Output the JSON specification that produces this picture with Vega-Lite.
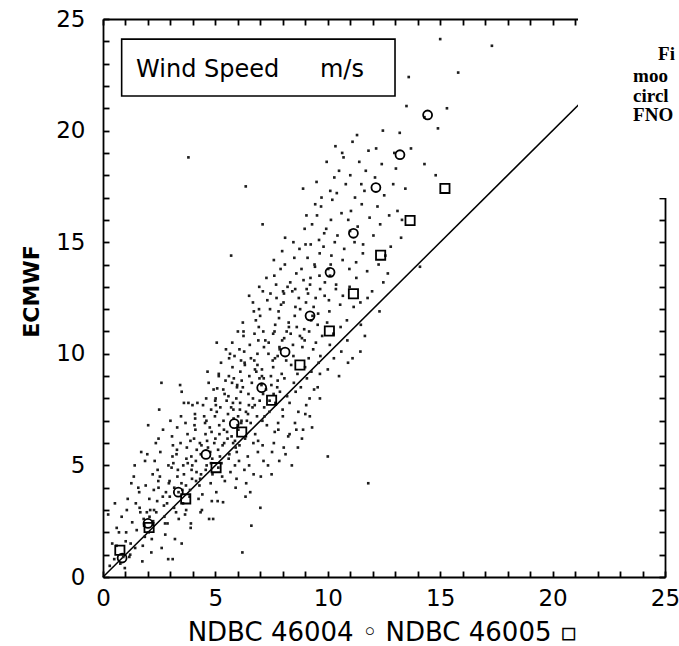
{
"$schema":"https://vega.github.io/schema/vega-lite/v6.json",
"width":562,"height":558,
"autosize":"none",
"padding":{"left":103,"top":19,"right":14,"bottom":69},
"background":"white",
"config":{"view":{"stroke":null},"axis":{"grid":false,"domainColor":"black","domainWidth":1.8,"labelColor":"black","titleColor":"black","labelFont":"DejaVu Sans","titleFont":"DejaVu Sans","labelOverlap":false,"labelFlush":false,"labelBound":false}},
"datasets":{
"line":[{"x":0,"y":0},{"x":25,"y":25}],
"dots":[
{"x":0.3,"y":0.5},{"x":0.41,"y":1.5},{"x":0.23,"y":2.8},{"x":0.5,"y":0.8},{"x":0.61,"y":2.2},{"x":0.6,"y":1.4},{"x":0.71,"y":2.0},{"x":0.53,"y":3.3},
{"x":0.9,"y":0.9},{"x":1.01,"y":1.6},{"x":0.83,"y":2.7},{"x":1.06,"y":3.0},{"x":0.77,"y":0.6},
{"x":1.1,"y":3.5},{"x":1.21,"y":1.0},{"x":1.03,"y":2.0},{"x":1.26,"y":4.2},{"x":0.97,"y":0.4},
{"x":1.3,"y":2.45},{"x":1.41,"y":5.0},{"x":1.23,"y":1.5},{"x":1.46,"y":3.3},{"x":1.17,"y":0.9},
{"x":1.5,"y":2.1},{"x":1.61,"y":3.8},{"x":1.43,"y":1.3},{"x":1.66,"y":2.9},{"x":1.37,"y":4.5},
{"x":1.7,"y":5.6},{"x":1.81,"y":2.6},{"x":1.63,"y":3.1},{"x":1.86,"y":1.8},{"x":1.57,"y":4.0},{"x":1.75,"y":0.7},
{"x":1.9,"y":4.1},{"x":2.01,"y":6.8},{"x":1.83,"y":2.3},{"x":2.06,"y":3.5},{"x":1.77,"y":1.4},{"x":1.95,"y":2.9},{"x":1.87,"y":5.2},
{"x":2.1,"y":3.0},{"x":2.21,"y":4.6},{"x":2.03,"y":2.0},{"x":2.26,"y":3.9},{"x":1.97,"y":5.5},{"x":2.15,"y":1.1},{"x":2.07,"y":2.7},
{"x":2.3,"y":5.2},{"x":2.41,"y":3.4},{"x":2.23,"y":2.5},{"x":2.46,"y":4.3},{"x":2.17,"y":1.7},{"x":2.35,"y":6.0},{"x":2.27,"y":3.0},
{"x":2.5,"y":7.5},{"x":2.61,"y":1.3},{"x":2.43,"y":4.8},{"x":2.66,"y":3.6},{"x":2.37,"y":2.9},{"x":2.55,"y":5.6},{"x":2.47,"y":4.0},
{"x":2.6,"y":8.7},{"x":2.71,"y":3.2},{"x":2.53,"y":4.5},{"x":2.76,"y":2.4},{"x":2.47,"y":6.2},
{"x":2.8,"y":3.8},{"x":2.91,"y":5.0},{"x":2.73,"y":2.7},{"x":2.96,"y":4.3},{"x":2.67,"y":6.6},{"x":2.85,"y":3.3},{"x":2.77,"y":1.9},{"x":2.9,"y":0.8},
{"x":3.0,"y":7.0},{"x":3.11,"y":5.9},{"x":2.93,"y":4.2},{"x":3.16,"y":3.1},{"x":2.87,"y":2.4},{"x":3.05,"y":4.9},{"x":2.97,"y":3.6},{"x":3.09,"y":5.4},
{"x":3.2,"y":1.7},{"x":3.31,"y":4.5},{"x":3.13,"y":5.1},{"x":3.36,"y":3.8},{"x":3.07,"y":6.3},{"x":3.25,"y":2.9},{"x":3.17,"y":4.0},{"x":3.29,"y":5.7},{"x":3.1,"y":0.8},
{"x":3.43,"y":8.6},{"x":3.5,"y":8.3},{"x":3.6,"y":7.8},{"x":3.33,"y":4.8},{"x":3.56,"y":3.3},{"x":3.27,"y":5.5},{"x":3.45,"y":6.0},{"x":3.37,"y":2.6},{"x":3.49,"y":4.2},{"x":3.3,"y":6.7},
{"x":3.6,"y":4.6},{"x":3.71,"y":5.3},{"x":3.53,"y":3.9},{"x":3.76,"y":6.4},{"x":3.47,"y":7.2},{"x":3.65,"y":2.8},{"x":3.57,"y":5.0},{"x":3.69,"y":4.1},{"x":3.5,"y":1.5},
{"x":3.8,"y":7.8},{"x":3.91,"y":2.4},{"x":3.73,"y":5.8},{"x":3.96,"y":4.4},{"x":3.67,"y":6.9},{"x":3.85,"y":3.6},{"x":3.77,"y":5.1},{"x":3.89,"y":6.1},{"x":3.7,"y":3.0},{"x":3.94,"y":4.8},{"x":3.8,"y":18.8},
{"x":3.98,"y":7.7},{"x":4.11,"y":6.6},{"x":3.93,"y":5.4},{"x":4.16,"y":4.7},{"x":3.87,"y":3.9},{"x":4.05,"y":6.2},{"x":3.97,"y":5.0},{"x":4.09,"y":7.3},{"x":3.9,"y":2.2},{"x":4.14,"y":4.3},
{"x":4.2,"y":7.8},{"x":4.31,"y":6.0},{"x":4.13,"y":5.2},{"x":4.36,"y":4.6},{"x":4.07,"y":6.8},{"x":4.25,"y":3.5},{"x":4.17,"y":5.7},{"x":4.29,"y":4.1},{"x":4.1,"y":7.1},{"x":4.34,"y":2.9},
{"x":4.45,"y":7.7},{"x":4.56,"y":6.4},{"x":4.38,"y":5.9},{"x":4.61,"y":5.0},{"x":4.32,"y":4.4},{"x":4.5,"y":7.2},{"x":4.42,"y":3.7},{"x":4.54,"y":6.9},{"x":4.35,"y":5.5},{"x":4.59,"y":8.0},{"x":4.4,"y":3.0},
{"x":4.7,"y":8.7},{"x":4.81,"y":7.5},{"x":4.63,"y":6.1},{"x":4.86,"y":5.3},{"x":4.57,"y":4.8},{"x":4.75,"y":6.7},{"x":4.67,"y":5.8},{"x":4.79,"y":4.2},{"x":4.6,"y":7.0},{"x":4.84,"y":3.4},{"x":4.72,"y":2.6},{"x":4.65,"y":9.2},
{"x":4.9,"y":2.6},{"x":5.01,"y":8.0},{"x":4.83,"y":6.5},{"x":5.06,"y":7.4},{"x":4.77,"y":5.6},{"x":4.95,"y":6.0},{"x":4.87,"y":4.6},{"x":4.99,"y":7.9},{"x":4.8,"y":5.1},{"x":5.04,"y":3.8},{"x":4.92,"y":8.4},
{"x":5.06,"y":10.5},{"x":5.08,"y":8.45},{"x":5.1,"y":3.4},{"x":5.17,"y":6.8},{"x":4.98,"y":7.2},{"x":5.2,"y":5.4},{"x":5.0,"y":6.2},{"x":5.13,"y":4.9},{"x":5.02,"y":7.7},{"x":5.15,"y":9.0},
{"x":5.25,"y":9.6},{"x":5.36,"y":7.0},{"x":5.18,"y":6.4},{"x":5.41,"y":8.2},{"x":5.12,"y":5.7},{"x":5.34,"y":3.35},{"x":5.22,"y":7.6},{"x":5.3,"y":4.5},{"x":5.15,"y":9.1},{"x":5.39,"y":6.0},{"x":5.27,"y":5.1},
{"x":5.45,"y":8.8},{"x":5.56,"y":7.3},{"x":5.38,"y":6.6},{"x":5.61,"y":9.8},{"x":5.32,"y":5.9},{"x":5.5,"y":7.9},{"x":5.42,"y":4.3},{"x":5.54,"y":6.2},{"x":5.35,"y":8.4},{"x":5.59,"y":5.3},{"x":5.47,"y":10.2},
{"x":5.65,"y":10.0},{"x":5.76,"y":9.4},{"x":5.58,"y":8.1},{"x":5.81,"y":7.1},{"x":5.52,"y":6.5},{"x":5.7,"y":7.6},{"x":5.62,"y":5.5},{"x":5.74,"y":8.7},{"x":5.7,"y":14.4},{"x":5.79,"y":6.0},{"x":5.67,"y":4.7},{"x":5.6,"y":9.0},
{"x":5.85,"y":9.9},{"x":5.96,"y":8.5},{"x":5.78,"y":7.8},{"x":6.01,"y":7.2},{"x":5.72,"y":6.3},{"x":5.9,"y":5.8},{"x":5.82,"y":8.9},{"x":5.94,"y":4.4},{"x":5.75,"y":10.5},{"x":5.99,"y":6.8},{"x":5.87,"y":5.0},{"x":5.8,"y":7.5},
{"x":6.0,"y":11.0},{"x":6.11,"y":9.2},{"x":5.93,"y":8.0},{"x":6.16,"y":7.0},{"x":5.87,"y":6.1},{"x":6.05,"y":5.2},{"x":5.97,"y":8.6},{"x":6.09,"y":7.5},{"x":5.9,"y":4.0},{"x":6.14,"y":9.7},{"x":6.02,"y":6.6},{"x":5.95,"y":5.6},{"x":6.07,"y":10.2},
{"x":6.2,"y":1.1},{"x":6.31,"y":9.5},{"x":6.13,"y":8.3},{"x":6.36,"y":7.4},{"x":6.07,"y":5.9},{"x":6.25,"y":10.8},{"x":6.17,"y":8.8},{"x":6.29,"y":4.8},{"x":6.1,"y":7.8},{"x":6.34,"y":3.6},{"x":6.22,"y":11.4},{"x":6.15,"y":6.9},
{"x":6.35,"y":17.5},{"x":6.5,"y":12.6},{"x":6.28,"y":10.1},{"x":6.51,"y":9.0},{"x":6.22,"y":8.5},{"x":6.4,"y":7.0},{"x":6.32,"y":6.2},{"x":6.44,"y":5.4},{"x":6.25,"y":11.0},{"x":6.49,"y":7.7},{"x":6.37,"y":4.2},{"x":6.3,"y":9.6},
{"x":6.6,"y":2.3},{"x":6.71,"y":11.9},{"x":6.53,"y":10.4},{"x":6.76,"y":9.3},{"x":6.47,"y":8.2},{"x":6.65,"y":7.6},{"x":6.57,"y":6.9},{"x":6.69,"y":6.0},{"x":6.5,"y":5.0},{"x":6.74,"y":10.9},{"x":6.62,"y":8.7},{"x":6.55,"y":3.8},{"x":6.67,"y":12.3},{"x":6.45,"y":7.3},{"x":6.58,"y":9.8},
{"x":6.8,"y":11.5},{"x":6.91,"y":10.6},{"x":6.73,"y":9.7},{"x":6.96,"y":8.9},{"x":6.67,"y":8.0},{"x":6.85,"y":7.2},{"x":6.77,"y":6.4},{"x":6.89,"y":5.6},{"x":6.7,"y":4.6},{"x":6.94,"y":12.0},{"x":6.82,"y":9.2},{"x":6.75,"y":7.7},{"x":6.87,"y":10.0},
{"x":7.0,"y":3.1},{"x":7.11,"y":12.8},{"x":6.93,"y":11.2},{"x":7.16,"y":10.3},{"x":6.87,"y":9.5},{"x":7.05,"y":8.6},{"x":6.97,"y":7.9},{"x":7.09,"y":7.0},{"x":6.9,"y":6.1},{"x":7.14,"y":5.2},{"x":7.02,"y":4.5},{"x":6.95,"y":13.0},{"x":7.07,"y":9.0},{"x":6.99,"y":11.7},{"x":7.12,"y":8.2},
{"x":7.1,"y":15.8},{"x":7.31,"y":12.4},{"x":7.13,"y":11.0},{"x":7.36,"y":10.0},{"x":7.07,"y":9.3},{"x":7.25,"y":8.4},{"x":7.17,"y":7.6},{"x":7.29,"y":6.8},{"x":7.1,"y":5.9},{"x":7.34,"y":5.0},{"x":7.22,"y":10.6},{"x":7.15,"y":8.9},{"x":7.27,"y":13.4},{"x":7.19,"y":7.2},
{"x":7.5,"y":4.6},{"x":7.6,"y":14.2},{"x":7.43,"y":12.0},{"x":7.66,"y":11.3},{"x":7.37,"y":10.5},{"x":7.55,"y":9.7},{"x":7.47,"y":9.0},{"x":7.59,"y":8.2},{"x":7.4,"y":7.4},{"x":7.64,"y":6.5},{"x":7.52,"y":5.6},{"x":7.45,"y":12.7},{"x":7.57,"y":10.9},{"x":7.49,"y":8.6},{"x":7.62,"y":13.5},{"x":7.41,"y":7.9},
{"x":7.7,"y":13.1},{"x":7.81,"y":11.9},{"x":7.63,"y":11.0},{"x":7.86,"y":10.2},{"x":7.57,"y":9.4},{"x":7.75,"y":8.5},{"x":7.67,"y":7.8},{"x":7.79,"y":6.9},{"x":7.6,"y":6.0},{"x":7.84,"y":5.2},{"x":7.72,"y":12.5},{"x":7.65,"y":9.8},{"x":7.77,"y":8.8},
{"x":7.9,"y":13.8},{"x":8.01,"y":12.8},{"x":7.83,"y":11.6},{"x":8.06,"y":10.7},{"x":7.77,"y":9.9},{"x":7.95,"y":9.1},{"x":7.87,"y":8.3},{"x":7.99,"y":7.5},{"x":7.8,"y":6.6},{"x":8.04,"y":5.8},{"x":7.92,"y":12.2},{"x":7.85,"y":10.3},{"x":7.97,"y":14.6},
{"x":8.1,"y":15.2},{"x":8.21,"y":13.0},{"x":8.03,"y":12.3},{"x":8.26,"y":11.4},{"x":7.97,"y":10.6},{"x":8.15,"y":9.7},{"x":8.07,"y":8.9},{"x":8.19,"y":8.1},{"x":8.0,"y":7.2},{"x":8.24,"y":6.3},{"x":8.12,"y":5.5},{"x":8.05,"y":12.7},{"x":8.17,"y":11.0},{"x":8.09,"y":14.0},
{"x":8.4,"y":5.0},{"x":8.51,"y":14.3},{"x":8.33,"y":13.2},{"x":8.56,"y":12.1},{"x":8.27,"y":11.2},{"x":8.45,"y":10.4},{"x":8.37,"y":9.5},{"x":8.49,"y":8.7},{"x":8.3,"y":7.8},{"x":8.54,"y":6.9},{"x":8.3,"y":6.4},{"x":8.42,"y":12.8},{"x":8.35,"y":10.9},{"x":8.47,"y":15.0},
{"x":8.6,"y":13.6},{"x":8.71,"y":12.5},{"x":8.53,"y":11.7},{"x":8.76,"y":10.8},{"x":8.47,"y":9.9},{"x":8.65,"y":9.1},{"x":8.57,"y":8.3},{"x":8.69,"y":7.4},{"x":8.6,"y":6.6},{"x":8.74,"y":14.7},{"x":8.62,"y":11.2},{"x":8.55,"y":12.9},{"x":8.67,"y":5.8},
{"x":8.9,"y":17.4},{"x":9.01,"y":14.9},{"x":8.83,"y":13.8},{"x":9.06,"y":12.9},{"x":8.77,"y":12.0},{"x":8.95,"y":11.1},{"x":8.87,"y":10.3},{"x":8.99,"y":9.4},{"x":8.8,"y":8.5},{"x":9.04,"y":7.7},{"x":8.9,"y":6.6},{"x":8.92,"y":13.3},{"x":8.85,"y":10.7},{"x":8.97,"y":15.6},{"x":8.85,"y":6.2},
{"x":9.1,"y":14.3},{"x":9.21,"y":13.1},{"x":9.03,"y":12.3},{"x":9.26,"y":11.5},{"x":8.97,"y":10.6},{"x":9.15,"y":9.8},{"x":9.07,"y":8.9},{"x":9.19,"y":8.0},{"x":9.0,"y":7.3},{"x":9.24,"y":14.9},{"x":9.12,"y":12.7},{"x":9.05,"y":16.2},
{"x":9.3,"y":15.8},{"x":9.41,"y":14.0},{"x":9.23,"y":13.4},{"x":9.46,"y":12.5},{"x":9.17,"y":11.0},{"x":9.35,"y":10.2},{"x":9.27,"y":9.2},{"x":9.39,"y":8.4},{"x":9.3,"y":6.7},{"x":9.44,"y":16.7},{"x":9.32,"y":11.7},{"x":9.2,"y":7.2},
{"x":9.5,"y":17.7},{"x":9.61,"y":15.1},{"x":9.43,"y":13.9},{"x":9.66,"y":12.9},{"x":9.37,"y":12.1},{"x":9.55,"y":11.3},{"x":9.47,"y":10.5},{"x":9.59,"y":9.6},{"x":9.55,"y":8.5},{"x":9.64,"y":14.5},{"x":9.52,"y":16.2},
{"x":9.7,"y":16.6},{"x":9.81,"y":14.8},{"x":9.63,"y":13.5},{"x":9.86,"y":12.6},{"x":9.57,"y":11.8},{"x":9.75,"y":10.8},{"x":9.67,"y":9.9},{"x":9.65,"y":9.1},{"x":9.65,"y":8.0},{"x":9.84,"y":15.4},{"x":9.72,"y":17.0},
{"x":10.0,"y":5.4},{"x":10.11,"y":17.3},{"x":9.93,"y":15.6},{"x":10.16,"y":14.4},{"x":9.87,"y":13.2},{"x":10.05,"y":12.4},{"x":9.97,"y":11.4},{"x":10.09,"y":10.4},{"x":10.0,"y":9.3},{"x":10.14,"y":16.0},{"x":10.02,"y":13.8},{"x":9.95,"y":18.6},
{"x":10.2,"y":16.9},{"x":10.31,"y":15.0},{"x":10.13,"y":14.0},{"x":10.36,"y":12.9},{"x":10.07,"y":11.9},{"x":10.25,"y":10.9},{"x":10.27,"y":9.8},{"x":10.29,"y":17.9},{"x":10.1,"y":13.5},{"x":10.34,"y":19.3},
{"x":10.5,"y":18.2},{"x":10.61,"y":16.3},{"x":10.43,"y":15.3},{"x":10.66,"y":14.2},{"x":10.37,"y":13.1},{"x":10.55,"y":12.2},{"x":10.57,"y":11.2},{"x":10.6,"y":10.1},{"x":10.4,"y":17.2},{"x":10.64,"y":19.0},{"x":10.5,"y":9.0},
{"x":10.8,"y":17.6},{"x":10.91,"y":16.0},{"x":10.73,"y":14.7},{"x":10.96,"y":13.8},{"x":10.67,"y":12.6},{"x":10.85,"y":11.5},{"x":10.87,"y":10.6},{"x":10.99,"y":15.5},{"x":10.7,"y":18.8},{"x":10.9,"y":9.6},
{"x":11.1,"y":19.5},{"x":11.21,"y":17.0},{"x":11.03,"y":16.4},{"x":11.26,"y":14.1},{"x":10.97,"y":13.0},{"x":11.15,"y":12.1},{"x":11.1,"y":9.8},{"x":11.19,"y":15.0},{"x":11.0,"y":18.0},
{"x":11.4,"y":18.6},{"x":11.51,"y":16.7},{"x":11.33,"y":15.7},{"x":11.56,"y":14.5},{"x":11.27,"y":13.4},{"x":11.45,"y":12.3},{"x":11.47,"y":11.3},{"x":11.49,"y":17.6},{"x":11.3,"y":19.8},{"x":11.45,"y":10.1},
{"x":11.8,"y":4.2},{"x":11.81,"y":19.1},{"x":11.63,"y":17.3},{"x":11.86,"y":16.1},{"x":11.57,"y":14.9},{"x":11.75,"y":13.7},{"x":11.77,"y":12.5},{"x":11.69,"y":18.2},{"x":11.65,"y":10.8},
{"x":12.1,"y":17.9},{"x":12.21,"y":16.6},{"x":12.03,"y":15.3},{"x":12.26,"y":14.0},{"x":11.97,"y":12.8},{"x":12.15,"y":19.2},{"x":12.3,"y":11.9},
{"x":12.4,"y":18.5},{"x":12.51,"y":17.1},{"x":12.33,"y":15.8},{"x":12.56,"y":14.4},{"x":12.47,"y":13.2},{"x":12.45,"y":20.0},
{"x":12.8,"y":14.8},{"x":12.91,"y":17.6},{"x":12.73,"y":16.2},{"x":12.96,"y":19.0},{"x":12.67,"y":13.6},
{"x":13.1,"y":16.4},{"x":13.2,"y":19.9},{"x":13.03,"y":18.3},{"x":13.26,"y":15.2},{"x":13.3,"y":16.0},{"x":13.5,"y":21.1},{"x":13.45,"y":17.4},
{"x":13.6,"y":22.4},{"x":13.7,"y":19.2},{"x":14.1,"y":13.9},{"x":14.3,"y":18.5},{"x":14.3,"y":20.6},{"x":14.8,"y":18.0},{"x":14.9,"y":20.1},
{"x":15.0,"y":24.1},{"x":15.3,"y":21.0},{"x":15.8,"y":22.6},{"x":17.3,"y":23.8},{"x":9.8,"y":22.1}
],
"buoys":[
{"x":0.85,"y":0.85,"b":"46004"},{"x":2.0,"y":2.4,"b":"46004"},{"x":3.35,"y":3.8,"b":"46004"},{"x":4.58,"y":5.49,"b":"46004"},{"x":5.84,"y":6.87,"b":"46004"},{"x":7.06,"y":8.48,"b":"46004"},{"x":8.1,"y":10.08,"b":"46004"},{"x":9.21,"y":11.7,"b":"46004"},{"x":10.1,"y":13.65,"b":"46004"},{"x":11.14,"y":15.4,"b":"46004"},{"x":12.14,"y":17.45,"b":"46004"},{"x":13.21,"y":18.92,"b":"46004"},{"x":14.44,"y":20.7,"b":"46004"},
{"x":0.75,"y":1.2,"b":"46005"},{"x":2.05,"y":2.22,"b":"46005"},{"x":3.68,"y":3.5,"b":"46005"},{"x":5.03,"y":4.9,"b":"46005"},{"x":6.17,"y":6.5,"b":"46005"},{"x":7.5,"y":7.92,"b":"46005"},{"x":8.76,"y":9.5,"b":"46005"},{"x":10.07,"y":11.02,"b":"46005"},{"x":11.14,"y":12.69,"b":"46005"},{"x":12.35,"y":14.42,"b":"46005"},{"x":13.66,"y":15.97,"b":"46005"},{"x":15.21,"y":17.41,"b":"46005"}
],
"box":[{"x":0.83,"x2":12.99,"y":21.55,"y2":24.1}],
"words":[{"x":1.47,"y":22.4,"t":"Wind Speed"},{"x":9.65,"y":22.4,"t":"m/s"}],
"mask":[{"x":21.13,"x2":27,"y":16.98,"y2":27}],
"caption":[{"x":24.69,"y":23.16,"t":"Fi"},{"x":23.58,"y":22.18,"t":"moo"},{"x":23.58,"y":21.28,"t":"circl"},{"x":23.58,"y":20.43,"t":"FNO"}]
},
"layer":[
{"data":{"name":"line"},"mark":{"type":"line","color":"black","strokeWidth":1.5,"clip":false},
 "encoding":{
  "x":{"field":"x","type":"quantitative","scale":{"domain":[0,25],"nice":false,"zero":false},
   "axis":{"orient":"bottom","values":[0,1,2,3,4,5,6,7,8,9,10,11,12,13,14,15,16,17,18,19,20,21,22,23,24,25],"ticks":true,"tickSize":-6,"tickColor":"#000000","tickWidth":1.8,"tickOpacity":1,
    "labelExpr":"datum.value % 5 === 0 ? datum.label : ''","labelFontSize":23,"labelBaseline":"alphabetic","labelPadding":34,
    "title":"NDBC 46004 ◦  NDBC 46005 ▫","titleFontSize":26,"titleFontWeight":"normal","titleBaseline":"alphabetic","titleY":63,"titleX":279,"titleAlign":"center"}},
  "y":{"field":"y","type":"quantitative","scale":{"domain":[0,25],"nice":false,"zero":false},
   "axis":{"orient":"left","values":[0,1,2,3,4,5,6,7,8,9,10,11,12,13,14,15,16,17,18,19,20,21,22,23,24,25],"ticks":true,"tickSize":-6,"tickColor":"#000000","tickWidth":1.8,"tickOpacity":1,
    "labelExpr":"datum.value % 5 === 0 ? datum.label : ''","labelFontSize":23,"labelBaseline":"middle","labelPadding":24,
    "title":"ECMWF","titleFontSize":22,"titleFontWeight":"bold","titleAngle":270,"titleAlign":"center","titleBaseline":"alphabetic","titleX":-65,"titleY":272}}}},
{"data":{"name":"dots"},"mark":{"type":"point","shape":"square","filled":true,"size":7,"color":"#1e1e1e","opacity":1},
 "encoding":{
  "x":{"field":"x","type":"quantitative","scale":{"domain":[0,25],"nice":false,"zero":false},
   "axis":{"orient":"top","values":[0,1,2,3,4,5,6,7,8,9,10,11,12,13,14,15,16,17,18,19,20,21,22,23,24,25],"ticks":true,"tickSize":-6,"tickColor":"#000000","tickWidth":1.8,"tickOpacity":1,"labels":false,"title":null}},
  "y":{"field":"y","type":"quantitative","scale":{"domain":[0,25],"nice":false,"zero":false},
   "axis":{"orient":"right","values":[0,1,2,3,4,5,6,7,8,9,10,11,12,13,14,15,16,17,18,19,20,21,22,23,24,25],"ticks":true,"tickSize":-6,"tickColor":"#000000","tickWidth":1.8,"tickOpacity":1,"labels":false,"title":null}}}},
{"data":{"name":"buoys"},"mark":{"type":"point","filled":false,"strokeWidth":1.8,"color":"black","opacity":1},
 "encoding":{
  "x":{"field":"x","type":"quantitative","scale":{"domain":[0,25],"nice":false,"zero":false},"axis":null},
  "y":{"field":"y","type":"quantitative","scale":{"domain":[0,25],"nice":false,"zero":false},"axis":null},
  "shape":{"field":"b","type":"nominal","scale":{"domain":["46004","46005"],"range":["circle","square"]},"legend":null},
  "size":{"field":"b","type":"nominal","scale":{"domain":["46004","46005"],"range":[80,85]},"legend":null}}},
{"data":{"name":"box"},"mark":{"type":"rect","fill":"white","stroke":"black","strokeWidth":1.6},
 "encoding":{
  "x":{"field":"x","type":"quantitative","scale":{"domain":[0,25],"nice":false,"zero":false},"axis":null},"x2":{"field":"x2"},
  "y":{"field":"y","type":"quantitative","scale":{"domain":[0,25],"nice":false,"zero":false},"axis":null},"y2":{"field":"y2"}}},
{"data":{"name":"words"},"mark":{"type":"text","align":"left","baseline":"alphabetic","font":"DejaVu Sans","fontSize":24,"color":"black"},
 "encoding":{
  "x":{"field":"x","type":"quantitative","scale":{"domain":[0,25],"nice":false,"zero":false},"axis":null},
  "y":{"field":"y","type":"quantitative","scale":{"domain":[0,25],"nice":false,"zero":false},"axis":null},
  "text":{"field":"t"}}},
{"data":{"name":"mask"},"mark":{"type":"rect","fill":"white","stroke":null,"clip":false},
 "encoding":{
  "x":{"field":"x","type":"quantitative","scale":{"domain":[0,25],"nice":false,"zero":false},"axis":null},"x2":{"field":"x2"},
  "y":{"field":"y","type":"quantitative","scale":{"domain":[0,25],"nice":false,"zero":false},"axis":null},"y2":{"field":"y2"}}},
{"data":{"name":"caption"},"mark":{"type":"text","align":"left","baseline":"alphabetic","font":"Liberation Serif","fontSize":19,"fontWeight":"bold","color":"black"},
 "encoding":{
  "x":{"field":"x","type":"quantitative","scale":{"domain":[0,25],"nice":false,"zero":false},"axis":null},
  "y":{"field":"y","type":"quantitative","scale":{"domain":[0,25],"nice":false,"zero":false},"axis":null},
  "text":{"field":"t"}}}
],
"resolve":{"axis":{"x":"independent","y":"independent"}}
}
